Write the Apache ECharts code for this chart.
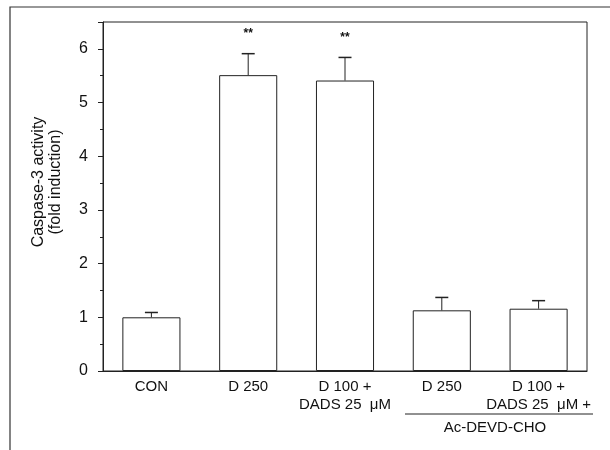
<!DOCTYPE html>
<html>
<head>
<meta charset="utf-8">
<script src="https://cdn.jsdelivr.net/npm/echarts@6/dist/echarts.min.js"></script>
<style>html,body{margin:0;padding:0;background:#fff}#c{width:610px;height:450px}</style>
</head>
<body>
<div id="c"></div>
<script>
const categories = ['CON', 'D 250', 'D 100 +\nDADS 25  μM', 'D 250', 'D 100 +\nDADS 25  μM +'];
const means = [1.0, 5.51, 5.41, 1.13, 1.16];
const sems = [0.09, 0.40, 0.43, 0.24, 0.15];
const stars = ['', '**', '**', '', ''];
const yTicks = [0, 1, 2, 3, 4, 5, 6];

const FONT = '"Liberation Sans", Arial, sans-serif';
const chart = echarts.init(document.getElementById('c'), null, {renderer: 'canvas'});

const errData = means.map((m, i) => [i, m, m + sems[i], stars[i]]);

chart.setOption({
  animation: false,
  backgroundColor: '#fff',
  grid: {left: 103, right: 23, top: 22, bottom: 79, show: true, borderColor: '#222', borderWidth: 1},
  xAxis: {
    type: 'category',
    data: categories,
    axisTick: {show: false},
    axisLine: {lineStyle: {color: '#222', width: 1}},
    axisLabel: {interval: 0, margin: 7, fontSize: 15, lineHeight: 18, color: '#111', fontFamily: FONT}
  },
  yAxis: {
    type: 'value',
    min: 0, max: 6.5, interval: 1,
    splitLine: {show: false},
    axisLine: {show: true, lineStyle: {color: '#222', width: 1}},
    axisTick: {show: true, length: 5, lineStyle: {color: '#222'}},
    minorTick: {show: true, splitNumber: 2, length: 3, lineStyle: {color: '#222'}},
    axisLabel: {
      margin: 15, fontSize: 16, color: '#111', fontFamily: FONT,
      formatter: v => (yTicks.indexOf(v) >= 0 ? String(v) : '')
    }
  },
  series: [
    {
      type: 'bar',
      data: means,
      barWidth: '60%',
      itemStyle: {color: '#fff', borderColor: '#222', borderWidth: 1}
    },
    {
      type: 'custom',
      data: errData,
      z: 10,
      renderItem: function (params, api) {
        const i = api.value(0);
        const base = api.coord([i, api.value(1)]);
        const top = api.coord([i, api.value(2)]);
        const star = errData[params.dataIndex][3];
        const children = [
          {type: 'line', shape: {x1: base[0], y1: base[1], x2: top[0], y2: top[1]}, style: {stroke: '#222', lineWidth: 1}},
          {type: 'line', shape: {x1: top[0] - 6.5, y1: top[1], x2: top[0] + 6.5, y2: top[1]}, style: {stroke: '#222', lineWidth: 1.5}}
        ];
        if (star) {
          children.push({type: 'text', style: {text: star, x: top[0], y: top[1] - 20, textAlign: 'center', textVerticalAlign: 'middle', fontSize: 12, fontWeight: 'bold', fontFamily: FONT, fill: '#111'}});
        }
        return {type: 'group', children: children};
      }
    }
  ],
  graphic: [
    {type: 'polyline', shape: {points: [[10, 450], [10, 7], [610, 7]]}, style: {stroke: '#333', lineWidth: 1.2, fill: null}},
    {type: 'line', shape: {x1: 405, y1: 414, x2: 593, y2: 414}, style: {stroke: '#222', lineWidth: 1}},
    {type: 'text', style: {text: 'Ac-DEVD-CHO', x: 495, y: 428, textAlign: 'center', textVerticalAlign: 'middle', fontSize: 15, fontFamily: FONT, fill: '#111'}},
    {type: 'text', rotation: Math.PI / 2, x: 47, y: 182,
      style: {text: 'Caspase-3 activity\n(fold induction)', x: 0, y: 0, textAlign: 'center', textVerticalAlign: 'middle', fontSize: 16, lineHeight: 17, fontFamily: FONT, fill: '#111'}}
  ]
});
</script>
</body>
</html>
